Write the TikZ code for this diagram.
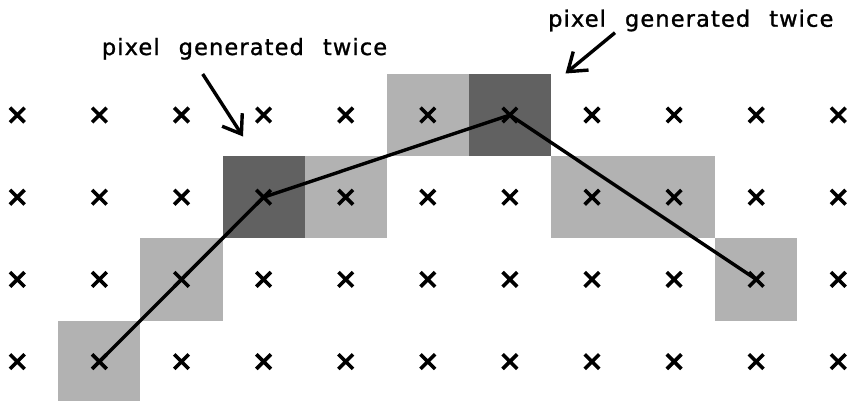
\documentclass[tikz,border=0pt]{standalone}
\usepackage{fontspec}
\setmainfont{DejaVu Sans}
\newfontfamily\lblfont[LetterSpace=5,WordSpace=2.3,FakeBold=1.2]{DejaVu Sans}
\usetikzlibrary{shapes.misc,arrows.meta}
\begin{document}
\begin{tikzpicture}[x=1pt,y=-1pt,
  xmark/.style={cross out,draw,line width=3.6pt,minimum size=11pt,inner sep=0pt},
  sq/.style={minimum width=82.1pt,minimum height=82.2pt,inner sep=0pt,draw=none},
  light/.style={sq,fill=black!30},
  dark/.style={sq,fill=black!62},
  pline/.style={line width=3.4pt,line join=round},
  callout/.style={line width=3.4pt,-{Straight Barb[length=17pt,width=24pt]}},
  lbl/.style={font=\lblfont\fontsize{22.5}{26}\selectfont,anchor=base west,inner sep=0pt}]
\useasboundingbox (0,0) rectangle (847,400);
% grid points
\foreach \i in {0,...,10}{\foreach \j in {0,...,3}{
  \coordinate (g-\i-\j) at ({17.3+82.1*\i},{115+82.2*\j});}}
% shaded pixels
\node[light] (s1) at (g-1-3) {};
\node[light] (s2) at (g-2-2) {};
\node[dark]  (s3) at (g-3-1) {};
\node[light] (s4) at (g-4-1) {};
\node[light] (s5) at (g-5-0) {};
\node[dark]  (s6) at (g-6-0) {};
\node[light] (s7) at (g-7-1) {};
\node[light] (s8) at (g-8-1) {};
\node[light] (s9) at (g-9-2) {};
% polyline
\draw[pline] (g-1-3) -- (g-3-1) -- (g-6-0) -- (g-9-2);
% crosses
\foreach \i in {0,...,10}{\foreach \j in {0,...,3}{
  \node[xmark] (x-\i-\j) at (g-\i-\j) {};}}
% labels
\node[lbl] (t1) at (101.7,55) {pixel generated twice};
\node[lbl] (t2) at (548,26.7) {pixel generated twice};
\coordinate (a1s) at (202.7,74);
\coordinate (a1e) at (243,136.5);
\coordinate (a2s) at (615,32.7);
\coordinate (a2e) at (565.5,73.5);
\draw[callout] (a1s) -- (a1e);
\draw[callout] (a2s) -- (a2e);
\end{tikzpicture}
\end{document}
